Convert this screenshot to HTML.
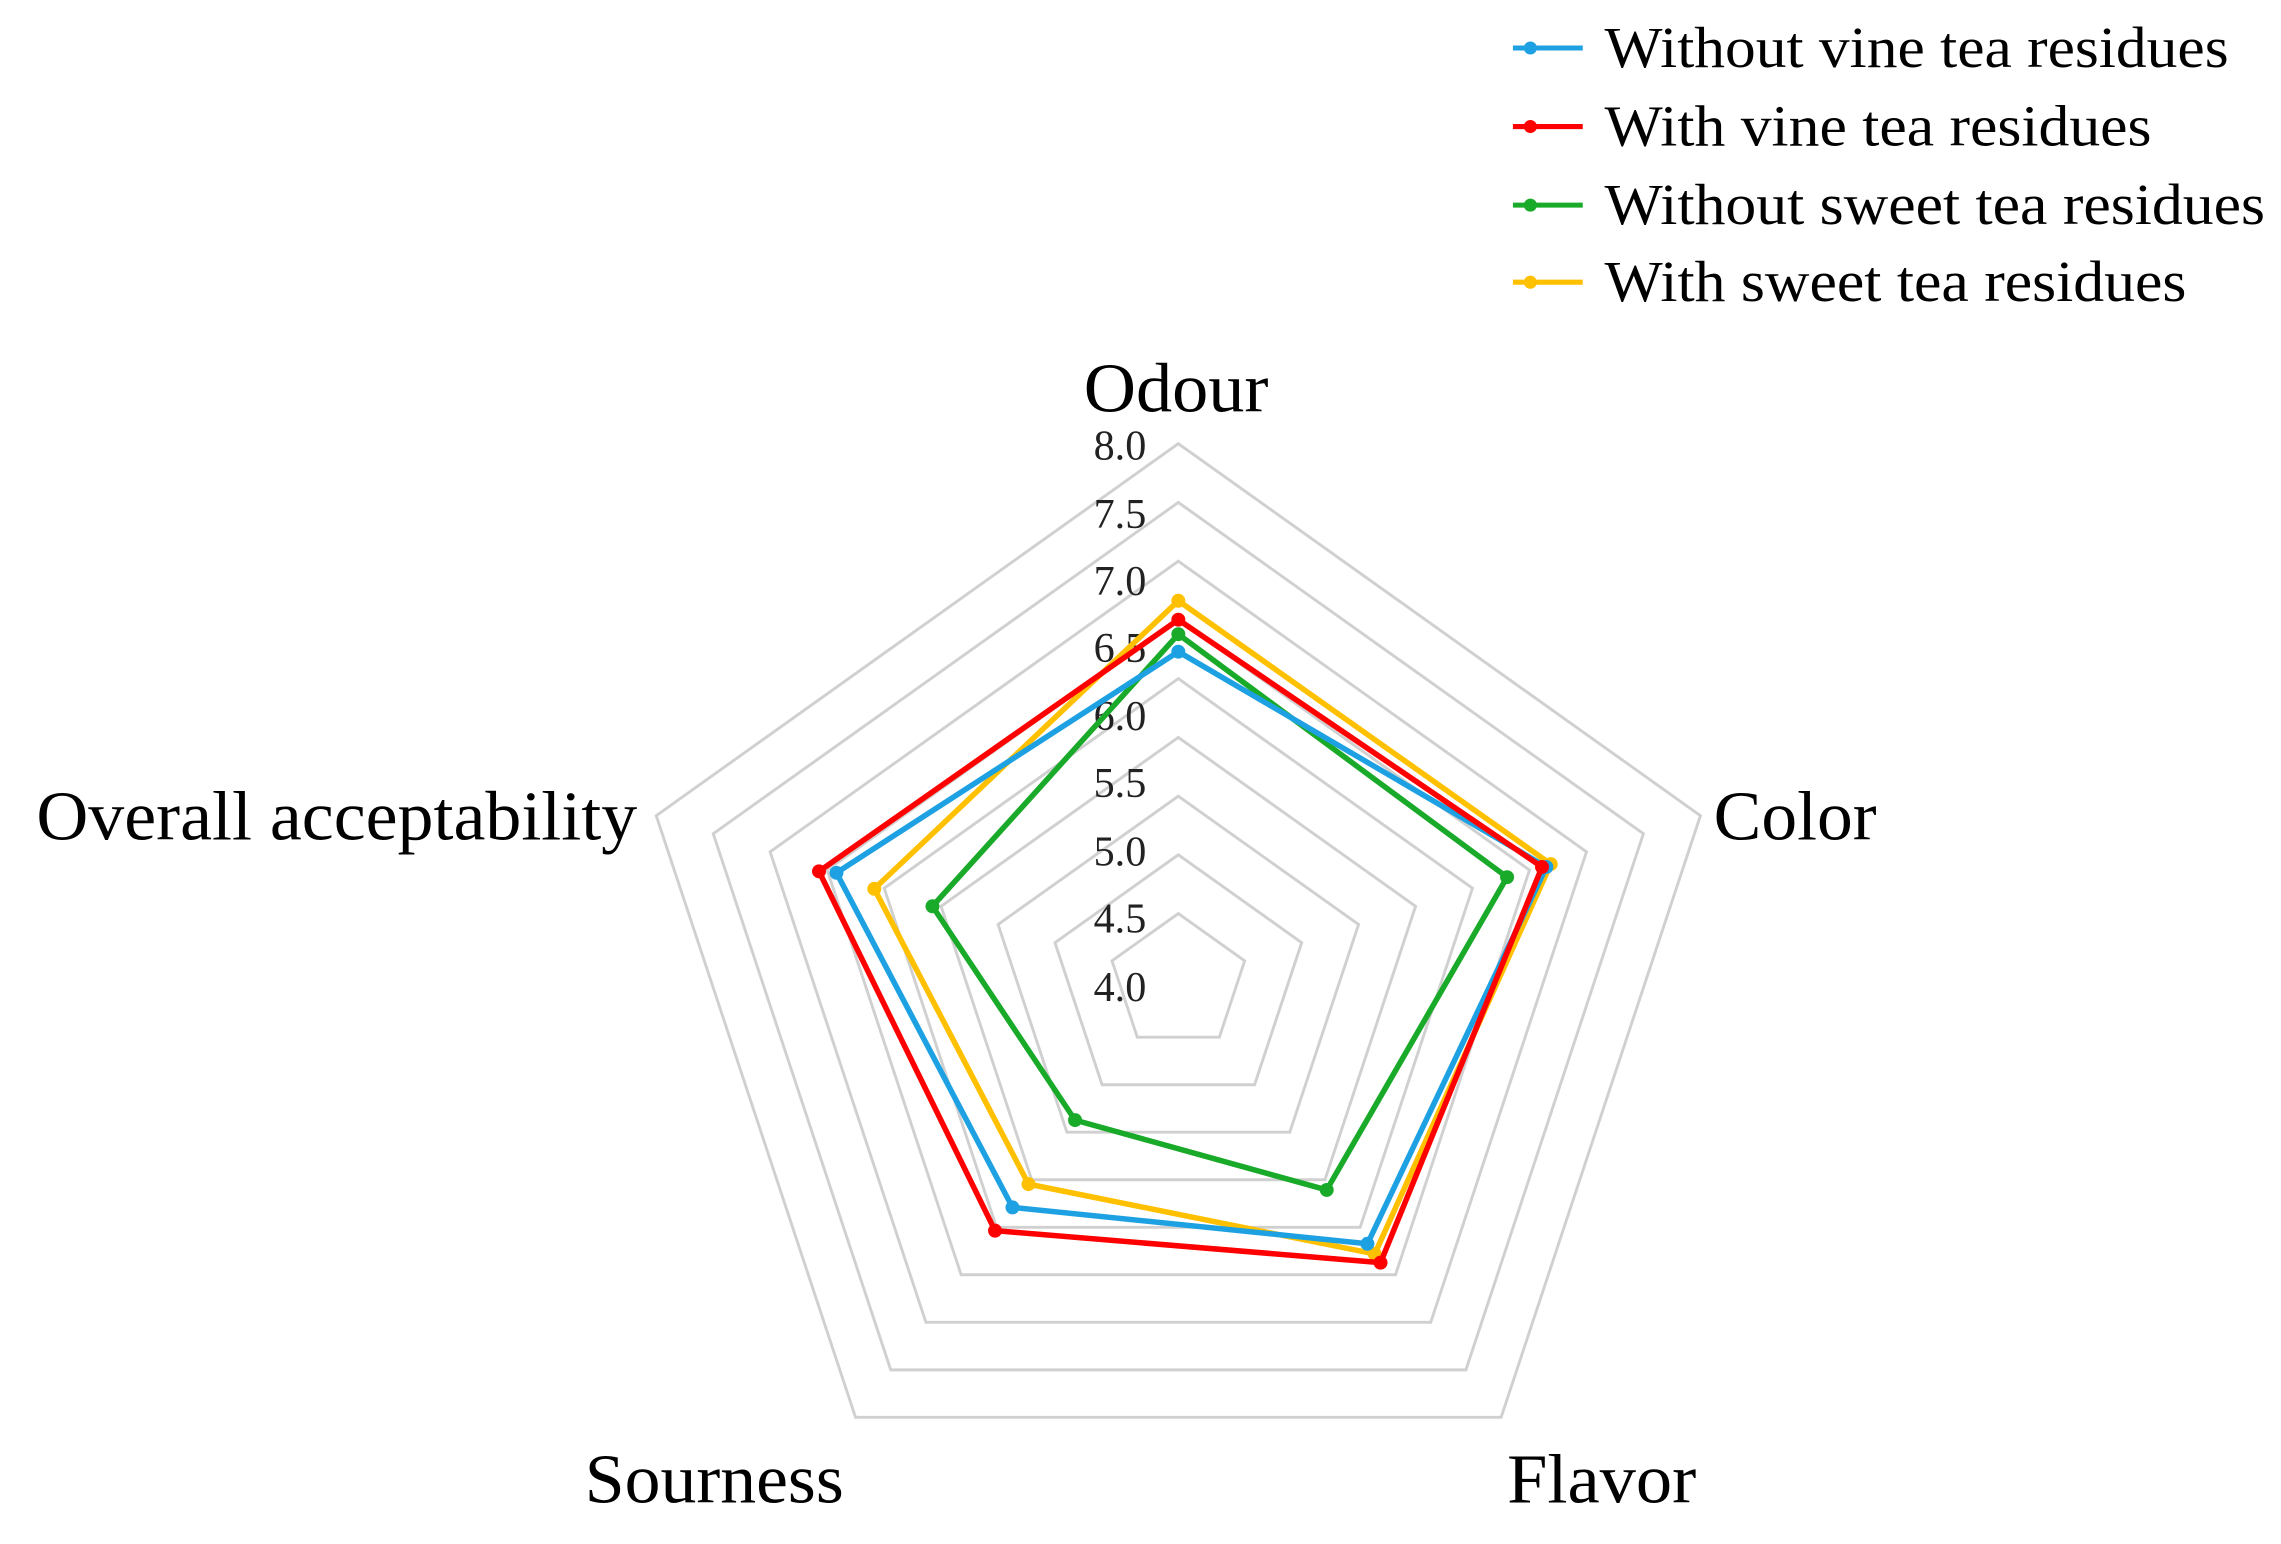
<!DOCTYPE html>
<html><head><meta charset="utf-8"><style>html,body{margin:0;padding:0;background:#fff}svg{display:block}</style></head>
<body>
<svg width="2281" height="1544" viewBox="0 0 1568 1061.4" preserveAspectRatio="none" xmlns="http://www.w3.org/2000/svg" font-family="Liberation Serif, serif">
<g id="rings" fill="none" stroke="#d0d0d0" stroke-width="2"></g>
<g font-size="29" fill="#222" text-anchor="end">
<text x="788" y="316">8.0</text><text x="788" y="363">7.5</text><text x="788" y="409">7.0</text><text x="788" y="455">6.5</text><text x="788" y="502">6.0</text><text x="788" y="548">5.5</text><text x="788" y="595">5.0</text><text x="788" y="641">4.5</text><text x="788" y="688">4.0</text>
</g>
<g font-size="48" fill="#000">
<text x="745" y="283" textLength="127" lengthAdjust="spacingAndGlyphs">Odour</text>
<text x="1178" y="577" textLength="112" lengthAdjust="spacingAndGlyphs">Color</text>
<text x="1036" y="1033" textLength="130" lengthAdjust="spacingAndGlyphs">Flavor</text>
<text x="402" y="1033" textLength="178" lengthAdjust="spacingAndGlyphs">Sourness</text>
<text x="25" y="577" textLength="413" lengthAdjust="spacingAndGlyphs">Overall acceptability</text>
</g>
<g id="series" fill="none" stroke-width="3.8" stroke-linejoin="round"></g>
<g font-size="40" fill="#000">
<line x1="1040" y1="33" x2="1088" y2="33" stroke="#1da1e2" stroke-width="3.5"/><circle cx="1052" cy="33" r="4.5" fill="#1da1e2"/>
<text x="1103" y="46" textLength="429" lengthAdjust="spacingAndGlyphs">Without vine tea residues</text>
<line x1="1040" y1="87" x2="1088" y2="87" stroke="#ff0000" stroke-width="3.5"/><circle cx="1052" cy="87" r="4.5" fill="#ff0000"/>
<text x="1103" y="100" textLength="376" lengthAdjust="spacingAndGlyphs">With vine tea residues</text>
<line x1="1040" y1="141" x2="1088" y2="141" stroke="#1aaa2a" stroke-width="3.5"/><circle cx="1052" cy="141" r="4.5" fill="#1aaa2a"/>
<text x="1103" y="154" textLength="454" lengthAdjust="spacingAndGlyphs">Without sweet tea residues</text>
<line x1="1040" y1="194" x2="1088" y2="194" stroke="#ffc000" stroke-width="3.5"/><circle cx="1052" cy="194" r="4.5" fill="#ffc000"/>
<text x="1103" y="207" textLength="400" lengthAdjust="spacingAndGlyphs">With sweet tea residues</text>
</g>
<script>
(function(){
var NS="http://www.w3.org/2000/svg",cx=810,cy=675,sx=1.02;
var dirs=[[0,-1],[0.951,-0.309],[0.588,0.809],[-0.588,0.809],[-0.951,-0.309]];
var rg=document.getElementById('rings');
for(var k=0;k<9;k++){var r=47+k*40.375;var pts=dirs.map(function(d){return (cx+d[0]*r*sx).toFixed(1)+','+(cy+d[1]*r).toFixed(1)}).join(' ');
var p=document.createElementNS(NS,'polygon');p.setAttribute('points',pts);rg.appendChild(p);}
var S=[
['#ffc000',[[810,413],[1066,594],[945,862],[707,814],[601,611]]],
['#1aaa2a',[[810,436],[1036,603],[912,818],[739,770],[641,623]]],
['#1da1e2',[[810,448],[1063,596],[940,855],[696,830],[575,600]]],
['#ff0000',[[810,426],[1060,596],[949,868],[684,846],[563,599]]]
];
var sg=document.getElementById('series');
S.forEach(function(s){var p=document.createElementNS(NS,'polygon');p.setAttribute('points',s[1].map(function(a){return a.join(',')}).join(' '));p.setAttribute('stroke',s[0]);sg.appendChild(p);
s[1].forEach(function(a){var c=document.createElementNS(NS,'circle');c.setAttribute('cx',a[0]);c.setAttribute('cy',a[1]);c.setAttribute('r',4.8);c.setAttribute('fill',s[0]);c.setAttribute('stroke','none');sg.appendChild(c);});});
})();
</script>
</svg>
</body></html>
